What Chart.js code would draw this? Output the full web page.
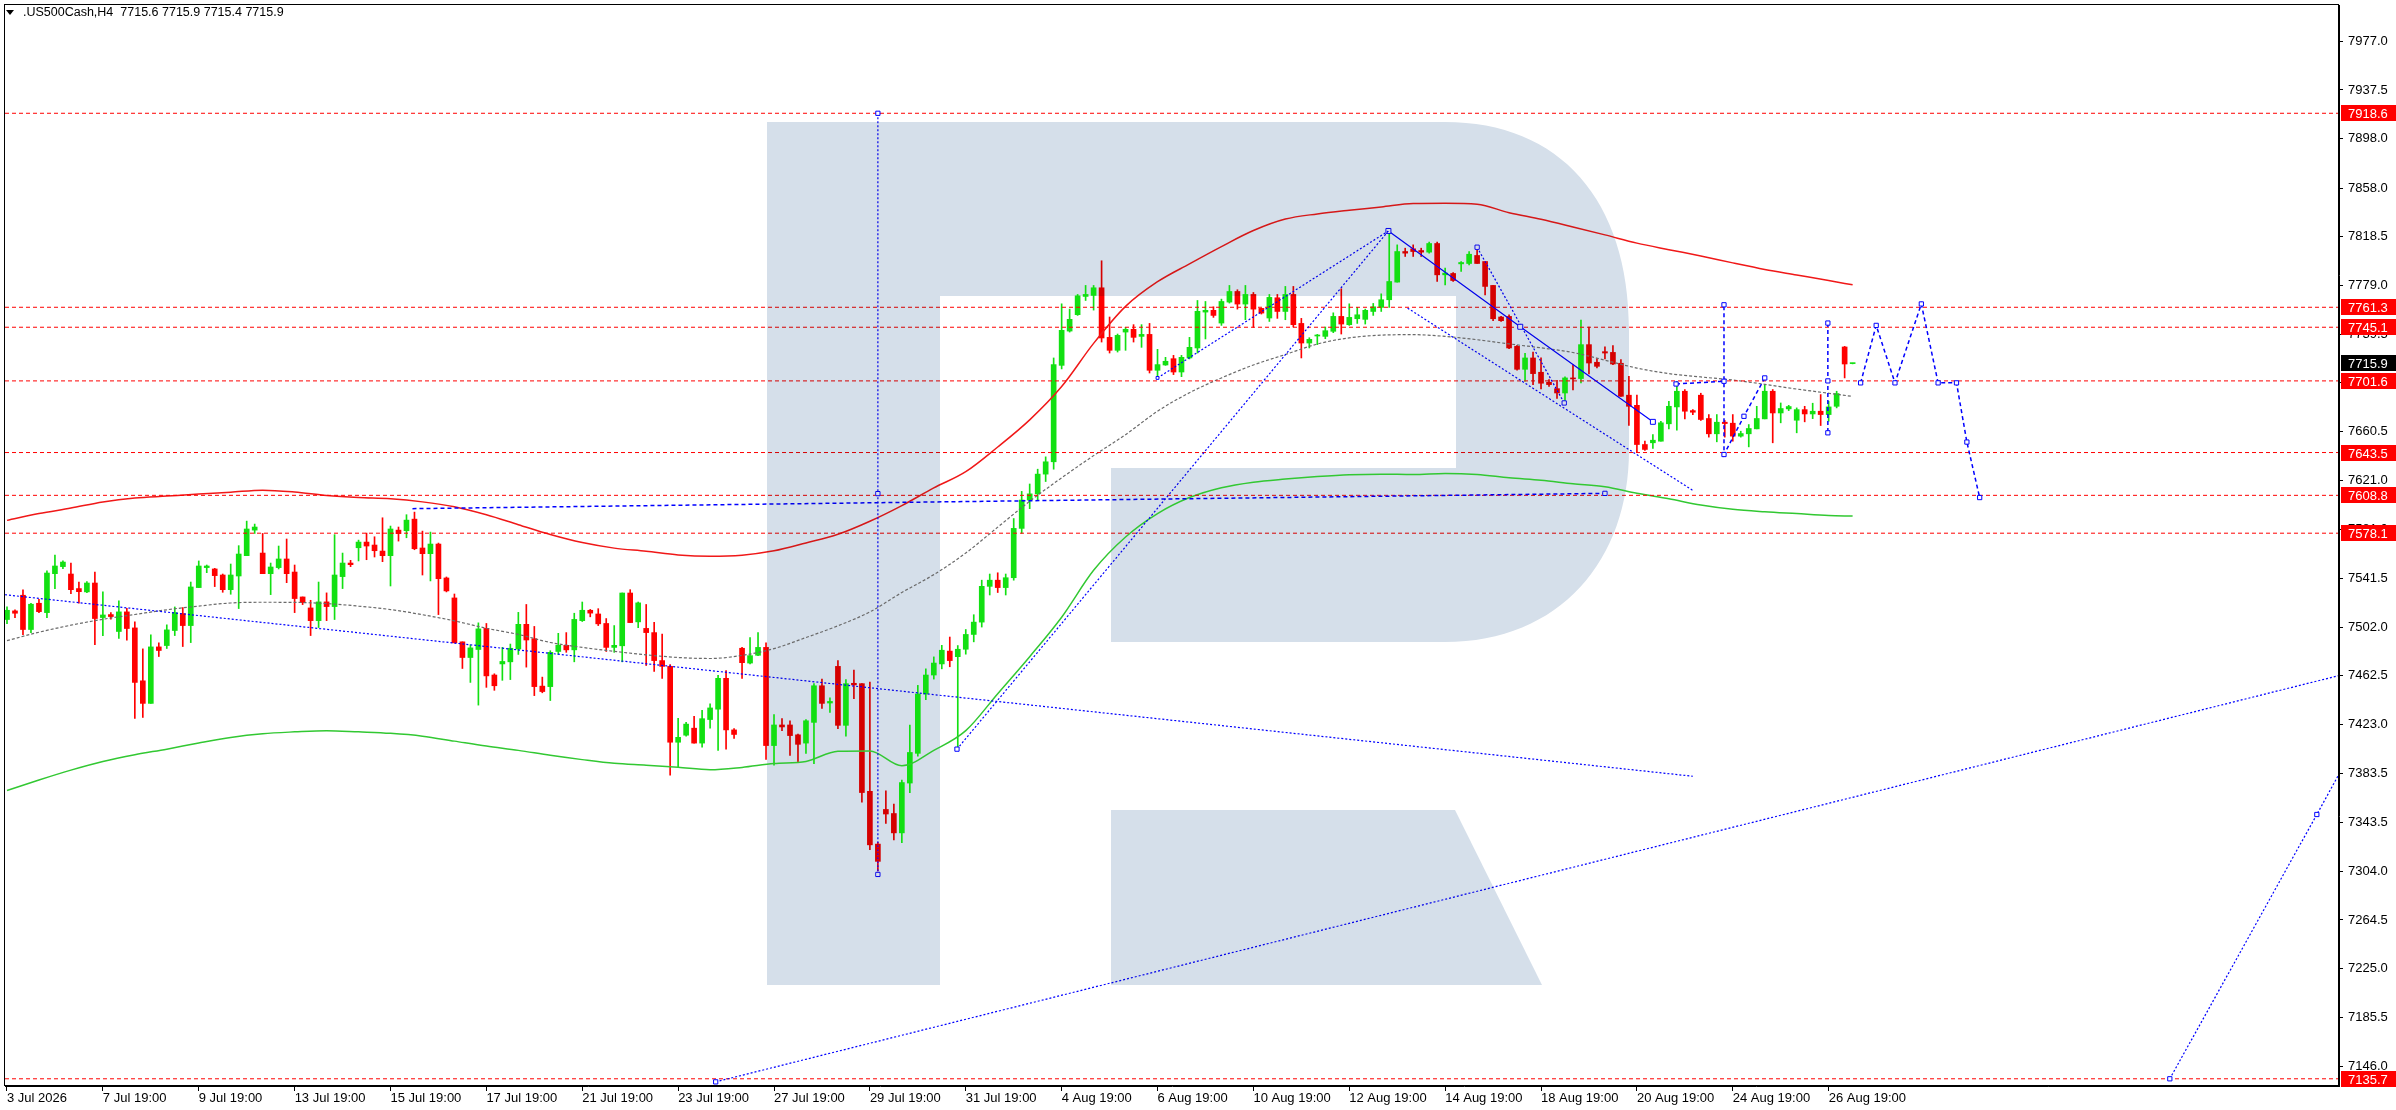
<!DOCTYPE html>
<html>
<head>
<meta charset="utf-8">
<title>.US500Cash,H4</title>
<script src="https://cdn.jsdelivr.net/npm/chart.js@4.4.1/dist/chart.umd.min.js"></script>
<style>
  html, body { margin: 0; padding: 0; background: #fff; }
  canvas { display: block; }
</style>
</head>
<body>
<canvas id="chart" width="2396" height="1110"></canvas>
<script>
// H4 candles, bar 0 = 3 Jul 2026
const opens = [
  7508.1, 7515.1, 7527.8, 7500.0, 7521.3, 7513.7, 7545.3, 7551.0, 7545.0, 7533.2,
  7530.5, 7537.7, 7509.7, 7512.1, 7498.4, 7514.3, 7501.3, 7458.4, 7440.1, 7485.9,
  7487.0, 7499.2, 7512.9, 7503.2, 7534.0, 7550.2, 7549.1, 7544.2, 7532.3, 7543.4,
  7559.9, 7580.6, 7562.0, 7545.3, 7550.2, 7557.2, 7546.6, 7526.4, 7517.5, 7507.2,
  7522.4, 7518.6, 7542.9, 7553.9, 7566.3, 7570.9, 7568.5, 7563.6, 7559.9, 7580.6,
  7580.1, 7589.5, 7566.1, 7561.5, 7569.3, 7541.8, 7525.6, 7490.0, 7477.3, 7483.8,
  7500.9, 7463.1, 7472.1, 7473.8, 7484.2, 7504.2, 7492.5, 7454.1, 7453.7, 7482.2,
  7487.2, 7483.5, 7507.2, 7515.6, 7512.6, 7504.9, 7485.5, 7486.8, 7529.6, 7506.2,
  7500.9, 7497.5, 7474.8, 7470.1, 7408.6, 7414.3, 7420.0, 7407.9, 7427.0, 7435.4,
  7460.4, 7418.6, 7484.8, 7472.8, 7479.1, 7485.5, 7405.9, 7422.6, 7422.6, 7414.6,
  7407.9, 7424.7, 7454.4, 7440.4, 7470.1, 7422.3, 7456.4, 7456.1, 7368.8, 7326.0,
  7354.1, 7350.8, 7335.1, 7375.5, 7399.6, 7447.7, 7463.1, 7472.1, 7482.5, 7478.0,
  7484.0, 7496.0, 7506.0, 7535.0, 7540.0, 7534.0, 7542.0, 7582.0, 7605.0, 7610.0,
  7626.0, 7636.0, 7714.2, 7742.0, 7755.3, 7770.1, 7770.9, 7777.1, 7736.9, 7726.4,
  7741.2, 7743.4, 7737.7, 7739.3, 7710.2, 7714.5, 7719.6, 7708.8, 7720.2, 7728.3,
  7757.4, 7758.8, 7748.5, 7765.5, 7774.1, 7763.9, 7771.7, 7760.4, 7752.6, 7769.0,
  7757.9, 7771.7, 7748.2, 7732.3, 7738.0, 7737.7, 7741.8, 7753.9, 7747.2, 7752.0,
  7751.5, 7757.9, 7761.2, 7767.4, 7781.7, 7806.5, 7808.7, 7807.3, 7806.0, 7813.0,
  7787.6, 7788.7, 7796.5, 7796.8, 7803.3, 7798.4, 7779.0, 7753.4, 7753.9, 7729.6,
  7711.0, 7720.2, 7708.6, 7700.5, 7695.3, 7691.8, 7704.0, 7703.5, 7731.0, 7716.7,
  7725.3, 7724.7, 7715.9, 7690.0, 7681.8, 7650.0, 7651.4, 7652.7, 7666.8, 7680.5,
  7693.2, 7677.5, 7690.0, 7671.1, 7658.7, 7668.1, 7667.3, 7656.8, 7658.7, 7662.7,
  7670.8, 7693.2, 7675.6, 7678.9, 7669.7, 7678.3, 7674.8, 7677.0, 7674.3, 7681.0,
  7729.1, 7715.6
];
const highs = [
  7518.3, 7515.9, 7532.1, 7521.3, 7524.5, 7547.5, 7560.4, 7555.6, 7553.9, 7538.5,
  7538.8, 7546.6, 7530.5, 7513.7, 7523.2, 7517.2, 7506.2, 7484.3, 7495.7, 7489.2,
  7503.8, 7518.3, 7517.8, 7538.5, 7555.6, 7552.3, 7549.6, 7545.0, 7553.1, 7568.0,
  7587.9, 7585.5, 7577.9, 7553.9, 7567.7, 7573.4, 7552.3, 7526.4, 7523.7, 7538.5,
  7529.7, 7576.9, 7562.0, 7556.1, 7572.5, 7578.2, 7575.2, 7590.6, 7583.9, 7583.1,
  7593.1, 7595.2, 7579.8, 7579.0, 7570.1, 7542.6, 7528.8, 7490.0, 7487.6, 7505.4,
  7504.9, 7464.1, 7485.5, 7488.2, 7513.9, 7520.3, 7502.5, 7461.4, 7482.8, 7496.9,
  7497.5, 7513.2, 7522.3, 7516.3, 7516.9, 7508.9, 7503.2, 7529.6, 7532.3, 7522.3,
  7520.3, 7505.9, 7496.2, 7471.5, 7428.0, 7424.7, 7429.7, 7434.4, 7439.7, 7462.8,
  7466.8, 7419.6, 7485.5, 7493.5, 7497.5, 7489.2, 7431.0, 7427.7, 7426.0, 7415.3,
  7427.0, 7456.1, 7459.8, 7444.7, 7474.8, 7459.4, 7467.1, 7456.1, 7457.4, 7327.4,
  7369.2, 7358.5, 7377.9, 7422.6, 7454.7, 7468.1, 7477.8, 7487.2, 7493.9, 7487.0,
  7500.0, 7512.0, 7540.0, 7545.0, 7546.0, 7545.0, 7590.0, 7612.0, 7618.0, 7630.0,
  7640.0, 7720.2, 7764.1, 7759.8, 7771.7, 7779.0, 7779.0, 7799.0, 7753.4, 7739.6,
  7745.0, 7747.2, 7747.2, 7748.2, 7727.2, 7720.7, 7722.3, 7722.3, 7736.9, 7766.8,
  7766.0, 7761.7, 7767.9, 7779.0, 7775.5, 7779.0, 7773.3, 7760.4, 7771.7, 7771.7,
  7778.2, 7778.2, 7752.3, 7736.6, 7739.3, 7745.3, 7756.8, 7776.3, 7764.1, 7761.2,
  7759.8, 7764.4, 7772.2, 7822.2, 7811.9, 7809.2, 7811.9, 7809.2, 7814.1, 7814.1,
  7793.0, 7789.5, 7798.4, 7806.5, 7809.2, 7798.4, 7779.0, 7753.9, 7755.2, 7730.4,
  7724.0, 7725.0, 7720.2, 7702.6, 7702.1, 7704.8, 7714.8, 7750.9, 7745.3, 7719.6,
  7729.3, 7730.2, 7718.8, 7705.3, 7690.0, 7652.7, 7658.1, 7668.9, 7685.1, 7701.3,
  7694.6, 7678.3, 7691.6, 7674.3, 7674.3, 7669.5, 7674.3, 7660.8, 7666.2, 7681.0,
  7698.1, 7694.6, 7683.7, 7681.8, 7679.7, 7681.0, 7683.5, 7690.5, 7685.1, 7693.2,
  7729.6, 7715.9
];
const lows = [
  7504.8, 7509.7, 7495.9, 7497.5, 7513.7, 7509.7, 7533.2, 7549.3, 7529.1, 7521.3,
  7529.9, 7487.8, 7495.1, 7508.3, 7492.7, 7491.3, 7427.9, 7428.7, 7440.1, 7478.1,
  7484.6, 7495.1, 7486.2, 7489.4, 7534.0, 7546.1, 7534.8, 7530.2, 7528.6, 7517.0,
  7559.9, 7577.9, 7545.3, 7528.3, 7549.1, 7538.0, 7513.7, 7520.2, 7495.1, 7501.6,
  7507.2, 7508.1, 7533.2, 7551.0, 7555.6, 7556.6, 7558.8, 7555.0, 7535.3, 7571.7,
  7574.4, 7564.7, 7544.2, 7539.4, 7512.1, 7530.5, 7489.2, 7468.4, 7457.1, 7438.7,
  7453.1, 7450.7, 7458.8, 7459.4, 7479.8, 7469.5, 7446.4, 7448.7, 7442.4, 7479.8,
  7481.5, 7473.8, 7506.5, 7510.3, 7503.2, 7482.2, 7481.5, 7473.8, 7505.6, 7501.5,
  7470.8, 7466.1, 7460.4, 7381.9, 7388.6, 7413.6, 7407.9, 7404.6, 7420.0, 7401.9,
  7402.9, 7411.6, 7460.4, 7472.1, 7478.8, 7394.6, 7389.9, 7418.0, 7398.0, 7392.6,
  7399.6, 7391.2, 7436.0, 7432.7, 7419.6, 7413.6, 7444.0, 7360.1, 7321.4, 7304.3,
  7342.8, 7329.4, 7327.1, 7367.8, 7397.3, 7443.1, 7459.8, 7468.1, 7469.8, 7403.0,
  7480.0, 7490.0, 7502.0, 7528.0, 7530.0, 7528.0, 7540.0, 7578.0, 7598.0, 7605.0,
  7620.0, 7630.0, 7711.3, 7741.2, 7754.7, 7766.8, 7759.0, 7733.1, 7724.2, 7725.0,
  7726.4, 7733.1, 7728.8, 7708.0, 7705.3, 7714.2, 7706.7, 7705.0, 7719.4, 7724.2,
  7735.6, 7753.1, 7746.6, 7764.7, 7759.8, 7751.2, 7745.0, 7755.8, 7749.8, 7752.3,
  7751.2, 7745.3, 7720.2, 7728.3, 7731.0, 7735.8, 7740.7, 7739.6, 7746.6, 7748.2,
  7747.7, 7754.7, 7757.9, 7761.2, 7781.7, 7802.5, 7802.5, 7802.5, 7805.2, 7782.2,
  7779.5, 7782.2, 7790.3, 7795.7, 7796.8, 7771.4, 7750.4, 7749.8, 7727.7, 7710.2,
  7701.3, 7698.6, 7695.1, 7697.2, 7687.3, 7685.1, 7694.3, 7699.9, 7707.2, 7712.1,
  7719.4, 7714.8, 7689.1, 7665.4, 7643.3, 7645.2, 7646.8, 7652.7, 7662.7, 7661.6,
  7670.8, 7674.3, 7669.5, 7656.0, 7652.2, 7656.0, 7652.7, 7656.0, 7648.1, 7662.7,
  7670.8, 7651.4, 7667.6, 7677.5, 7659.5, 7668.4, 7671.0, 7665.4, 7668.9, 7679.7,
  7704.0, 7715.4
];
const closes = [
  7515.6, 7513.2, 7500.0, 7520.5, 7514.5, 7545.8, 7551.5, 7554.7, 7532.3, 7530.7,
  7537.7, 7508.9, 7511.8, 7510.5, 7514.3, 7500.8, 7457.1, 7440.1, 7485.9, 7483.0,
  7499.7, 7513.7, 7503.2, 7534.5, 7551.5, 7551.5, 7543.7, 7532.3, 7544.2, 7561.2,
  7581.5, 7583.1, 7545.3, 7550.7, 7557.2, 7545.3, 7525.1, 7521.8, 7507.2, 7522.4,
  7518.6, 7544.2, 7553.9, 7552.6, 7570.9, 7567.7, 7563.9, 7559.9, 7581.5, 7577.7,
  7588.7, 7565.5, 7561.5, 7569.3, 7541.2, 7531.3, 7489.2, 7477.3, 7485.1, 7500.5,
  7462.4, 7454.4, 7474.1, 7484.8, 7504.2, 7491.5, 7453.7, 7449.7, 7481.5, 7487.2,
  7483.5, 7508.2, 7515.6, 7513.3, 7504.6, 7485.5, 7487.2, 7529.6, 7505.6, 7521.6,
  7497.5, 7474.8, 7470.1, 7408.6, 7412.6, 7423.3, 7407.9, 7427.7, 7436.4, 7460.4,
  7418.6, 7414.9, 7473.1, 7478.8, 7485.5, 7405.9, 7422.6, 7421.0, 7414.0, 7406.9,
  7426.0, 7454.4, 7440.1, 7441.7, 7422.3, 7456.1, 7455.1, 7367.8, 7325.4, 7312.0,
  7350.4, 7335.1, 7375.9, 7400.3, 7447.7, 7463.1, 7472.8, 7483.2, 7474.8, 7484.0,
  7496.0, 7506.0, 7535.0, 7540.0, 7534.0, 7542.0, 7582.0, 7605.0, 7610.0, 7626.0,
  7636.0, 7714.8, 7742.6, 7751.5, 7770.6, 7771.7, 7777.1, 7736.4, 7726.4, 7738.5,
  7743.4, 7736.9, 7739.3, 7710.2, 7714.8, 7717.5, 7708.8, 7720.7, 7728.8, 7758.0,
  7758.8, 7754.7, 7766.0, 7774.1, 7763.9, 7771.7, 7759.8, 7756.6, 7769.3, 7757.9,
  7771.7, 7747.2, 7732.3, 7735.3, 7738.8, 7742.3, 7753.9, 7747.7, 7753.1, 7755.2,
  7758.8, 7761.7, 7767.4, 7782.2, 7806.5, 7805.2, 7806.5, 7806.0, 7813.0, 7787.6,
  7789.0, 7783.0, 7797.6, 7804.3, 7796.8, 7778.2, 7752.0, 7750.4, 7728.3, 7711.0,
  7720.2, 7707.5, 7699.7, 7698.6, 7691.8, 7704.0, 7703.2, 7731.0, 7716.1, 7713.4,
  7724.2, 7715.3, 7689.1, 7681.0, 7650.0, 7646.0, 7653.5, 7667.6, 7681.0, 7693.2,
  7677.0, 7676.2, 7670.3, 7658.7, 7668.1, 7667.0, 7656.8, 7658.9, 7663.0, 7671.1,
  7693.2, 7675.6, 7679.2, 7680.8, 7678.3, 7674.8, 7677.0, 7674.3, 7680.5, 7691.3,
  7715.3, 7715.9
];

// time axis labels, one every 12 bars
const xTickBars = [0, 12, 24, 36, 48, 60, 72, 84, 96, 108, 120, 132, 144, 156, 168, 180, 192, 204, 216, 228];
const xTickLabels = ['3 Jul 2026', '7 Jul 19:00', '9 Jul 19:00', '13 Jul 19:00', '15 Jul 19:00', '17 Jul 19:00',
  '21 Jul 19:00', '23 Jul 19:00', '27 Jul 19:00', '29 Jul 19:00', '31 Jul 19:00', '4 Aug 19:00', '6 Aug 19:00',
  '10 Aug 19:00', '12 Aug 19:00', '14 Aug 19:00', '18 Aug 19:00', '20 Aug 19:00', '24 Aug 19:00', '26 Aug 19:00'];
const yTicks = [7146.0, 7185.5, 7225.0, 7264.5, 7304.0, 7343.5, 7383.5, 7423.0, 7462.5, 7502.0, 7541.5,
  7581.0, 7621.0, 7660.5, 7700.0, 7739.5, 7779.0, 7818.5, 7858.0, 7898.0, 7937.5, 7977.0];

const levels = [7918.6, 7761.3, 7745.1, 7701.6, 7643.5, 7608.8, 7578.1, 7135.7];
const lastPrice = 7715.9;

// envelope / moving averages
const maBars = [0, 4, 8, 12, 16, 20, 24, 28, 32, 36, 40, 44, 48, 52, 56, 60, 64, 68, 72, 76, 80, 84, 88, 92, 96,
  100, 104, 108, 112, 116, 120, 124, 128, 132, 136, 140, 144, 148, 152, 156, 160, 164, 168, 172, 176, 180,
  184, 188, 192, 196, 200, 204, 208, 212, 216, 220, 224, 228, 231];
const redMa = [7588.5, 7594, 7598.5, 7603.4, 7606.6, 7608.2, 7609.8, 7611.3, 7613, 7611.5, 7608.7, 7607, 7606,
  7603.5, 7599.5, 7593, 7585, 7577, 7570.5, 7566, 7563.5, 7560.5, 7559.4, 7560.3, 7563.8, 7570.2, 7577.2,
  7587.8, 7600.5, 7614.8, 7628, 7648, 7670, 7697, 7732, 7762, 7782, 7796.5, 7810.5, 7823.5, 7832.8, 7837,
  7840, 7842.6, 7845.4, 7845.6, 7844.8, 7838, 7832.6, 7826.4, 7820, 7813.3, 7808, 7802.9, 7797.3, 7792,
  7787.5, 7783, 7779.5];
const greenMa = [7369.5, 7378, 7386, 7393, 7398.5, 7403, 7408, 7412.5, 7415.5, 7417, 7418, 7417, 7415.8, 7413.5,
  7409.5, 7405.5, 7402, 7398, 7394.5, 7391.5, 7390, 7388.3, 7386.3, 7388.2, 7391.3, 7393, 7401.3, 7401.5,
  7389.5, 7402, 7418, 7448, 7478, 7510, 7548, 7575, 7594, 7607, 7615, 7619.5, 7622, 7624, 7625.5, 7626,
  7625.7, 7626.6, 7625.7, 7623, 7621, 7618.2, 7615.8, 7610.5, 7606, 7601, 7597.5, 7595.5, 7594, 7592.5, 7592];
const grayMa = [7491, 7497.8, 7503.5, 7508.3, 7512.2, 7516, 7519, 7521.5, 7522.1, 7522, 7521, 7519, 7516.2, 7512,
  7507, 7501, 7496, 7489.5, 7485.5, 7482.3, 7479.5, 7477.3, 7476.5, 7479, 7484.5, 7493.5, 7503, 7514.3, 7530,
  7544.5, 7562, 7583, 7604, 7623, 7641, 7658, 7677, 7692, 7704, 7714.5, 7723, 7731.5, 7736.5, 7738.7, 7739.1,
  7737.7, 7735, 7731.6, 7728.4, 7724.6, 7718.4, 7712, 7707.5, 7704.8, 7702.3, 7698.8, 7695, 7691.6, 7689];

// drawn analysis lines (bar position, price)
const trendDownBars = [-0.25, 211], trendDownVals = [7528.2, 7381];
const trendUpBars = [88.7, 291.9], trendUpVals = [7133.2, 7462.7];
const steepBars = [270.7, 289.1, 291.9], steepVals = [7135.7, 7350, 7383];
const flatBars = [50.75, 200], flatVals = [7598, 7610.4];
const vertBars = [109, 109, 109], vertVals = [7918.6, 7610.2, 7301.4];
const waveABars = [118.9, 172.9], waveAVals = [7403, 7823.2];
const waveBBars = [144, 172.9], waveBVals = [7704, 7823.2];
const solidBars = [172.9, 189.4, 206], solidVals = [7823.2, 7745.5, 7668.4];
const chanBars = [175.3, 211], chanVals = [7760.6, 7612.8];
const waveCBars = [184, 194.9], waveCVals = [7810, 7683.7];
const fcast1Bars = [208.9, 214.9, 214.9, 214.9, 217.4, 220], fcast1Vals = [7699.1, 7701.3, 7763.3, 7641.9, 7672.9, 7704];
const vert2Bars = [227.9, 227.9, 227.9], vert2Vals = [7748.5, 7701.6, 7659.5];
const fcast2Bars = [232, 233.95, 236.3, 239.6, 241.7, 244, 245.3, 246.9];
const fcast2Vals = [7700, 7746.6, 7700, 7764, 7700, 7700, 7652, 7607];

const UP = '#12e012', DOWN = '#ff0000', BLUE = '#0000ff';
const X_MIN = -0.25, X_MAX = 291.875;
const FONT = { family: '"Liberation Sans", Arial, sans-serif', size: 13 };

const pts = (xs, ys) => xs.map((x, i) => ({ x: x, y: ys[i] }));
const candleColor = c => (closes[c.dataIndex] >= opens[c.dataIndex] ? UP : DOWN);

function line(xs, ys, color, width, dash, order, radius, smooth) {
  return {
    type: 'line', data: pts(xs, ys), borderColor: color, borderWidth: width, borderDash: dash,
    pointRadius: radius || 0, pointStyle: 'rect', pointBorderColor: color, pointBackgroundColor: '#fff',
    pointBorderWidth: 1, fill: false, order: order,
    cubicInterpolationMode: smooth ? 'monotone' : 'default', tension: 0
  };
}

const datasets = [
  { type: 'bar', data: opens.map((o, i) => ({ x: i, y: [lows[i], highs[i]] })),
    backgroundColor: candleColor, barThickness: 1, grouped: false, borderWidth: 0, order: 20 },
  { type: 'bar', data: opens.map((o, i) => ({ x: i, y: [Math.min(o, closes[i]), Math.max(o, closes[i])] })),
    backgroundColor: candleColor, barThickness: 5, grouped: false, borderWidth: 0, minBarLength: 1, order: 19 },
  line(maBars, redMa, '#f01818', 1.5, [], 10, 0, true),
  line(maBars, greenMa, '#32c832', 1.5, [], 10, 0, true),
  line(maBars, grayMa, '#6a6a6a', 1.2, [3, 2], 10, 0, true)
];
levels.forEach(lv => datasets.push(line([X_MIN, X_MAX], [lv, lv], '#ff0000', 1, [4, 3], 5)));
datasets.push(
  line(trendDownBars, trendDownVals, BLUE, 1.2, [2, 2], 2),
  line(trendUpBars, trendUpVals, BLUE, 1.2, [2, 2], 2, [3, 0]),
  line(steepBars, steepVals, BLUE, 1.2, [2, 2], 2, [3, 3, 0]),
  line(flatBars, flatVals, BLUE, 1.5, [4, 3], 2, [0, 3]),
  line(vertBars, vertVals, BLUE, 1.2, [2, 2], 2, [3, 3, 3]),
  line(waveABars, waveAVals, BLUE, 1.2, [2, 2], 2, [3, 0]),
  line(waveBBars, waveBVals, BLUE, 1.2, [2, 2], 2, [2, 0]),
  line(solidBars, solidVals, BLUE, 1.2, [], 2, 3.5),
  line(chanBars, chanVals, BLUE, 1.2, [2, 2], 2),
  line(waveCBars, waveCVals, BLUE, 1.2, [2, 2], 2, 3),
  line(fcast1Bars, fcast1Vals, BLUE, 1.5, [4, 3], 2, 3),
  line(vert2Bars, vert2Vals, BLUE, 1.5, [4, 3], 2, 3),
  line(fcast2Bars, fcast2Vals, BLUE, 1.5, [4, 3], 2, 3)
);

// logo watermark (darken blend, like the terminal) + price tags + header
const decor = {
  id: 'decor',
  afterDatasetsDraw(chart) {
    const ctx = chart.ctx, a = chart.chartArea;
    ctx.save();
    ctx.beginPath();
    ctx.rect(a.left, a.top, a.right - a.left, a.bottom - a.top);
    ctx.clip();
    ctx.globalCompositeOperation = 'darken';
    ctx.fillStyle = '#d5dfea';
    ctx.beginPath();
    ctx.moveTo(767, 122);
    ctx.lineTo(1445, 122);
    ctx.bezierCurveTo(1560, 122, 1629, 200, 1629, 330);
    ctx.lineTo(1629, 450);
    ctx.bezierCurveTo(1629, 560, 1560, 642, 1445, 642);
    ctx.lineTo(1111, 642);
    ctx.lineTo(1111, 468);
    ctx.lineTo(1456, 468);
    ctx.lineTo(1456, 296);
    ctx.lineTo(940, 296);
    ctx.lineTo(940, 985);
    ctx.lineTo(767, 985);
    ctx.closePath();
    ctx.fill();
    ctx.beginPath();
    ctx.moveTo(1111, 810);
    ctx.lineTo(1455, 810);
    ctx.lineTo(1542, 985);
    ctx.lineTo(1111, 985);
    ctx.closePath();
    ctx.fill();
    ctx.restore();
  },
  afterDraw(chart) {
    const ctx = chart.ctx, a = chart.chartArea, y = chart.scales.y;
    ctx.save();
    ctx.strokeStyle = '#000';
    ctx.lineWidth = 1;
    ctx.strokeRect(a.left - 0.5, a.top - 0.5, a.right - a.left, a.bottom - a.top);
    ctx.font = '13px "Liberation Sans", Arial, sans-serif';
    ctx.textBaseline = 'middle';
    const tag = (v, bg) => {
      const py = Math.round(y.getPixelForValue(v));
      ctx.fillStyle = bg;
      ctx.fillRect(a.right + 2, py - 8, chart.width - a.right - 2, 16);
      ctx.fillStyle = '#fff';
      ctx.fillText(v.toFixed(1), a.right + 9, py + 1);
    };
    levels.forEach(lv => tag(lv, '#ff0000'));
    tag(lastPrice, '#000');
    // header
    ctx.fillStyle = '#000';
    ctx.beginPath();
    ctx.moveTo(6, 10); ctx.lineTo(14, 10); ctx.lineTo(10, 15); ctx.closePath();
    ctx.fill();
    ctx.font = '12.5px "Liberation Sans", Arial, sans-serif';
    ctx.fillText('.US500Cash,H4  ' + [opens[231], highs[231], lows[231], closes[231]].map(v => v.toFixed(1)).join(' '), 23, 13);
    ctx.restore();
  }
};

new Chart(document.getElementById('chart'), {
  type: 'bar',
  data: { datasets: datasets },
  options: {
    responsive: false, animation: false, devicePixelRatio: 1,
    layout: { padding: { left: 2, top: 3, right: 0, bottom: 0 } },
    plugins: { legend: { display: false }, tooltip: { enabled: false } },
    scales: {
      x: {
        type: 'linear', min: X_MIN, max: X_MAX, offset: false,
        grid: { display: true, drawOnChartArea: false, drawTicks: true, tickLength: 5, color: '#000', offset: false },
        border: { display: true, color: '#000' },
        ticks: { autoSkip: false, maxRotation: 0, align: 'start', padding: 0, color: '#000', font: FONT,
          callback: (v, i) => xTickLabels[i] },
        afterBuildTicks: s => { s.ticks = xTickBars.map(v => ({ value: v })); },
        afterFit: s => { s.height = 24; s.paddingLeft = 0; s.paddingRight = 0; }
      },
      y: {
        type: 'linear', position: 'right', min: 7129.85, max: 8006.4,
        grid: { display: true, drawOnChartArea: false, drawTicks: true, tickLength: 4, color: '#000' },
        border: { display: true, color: '#000' },
        ticks: { autoSkip: false, padding: 5, color: '#000', font: FONT, callback: v => v.toFixed(1) },
        afterBuildTicks: s => { s.ticks = yTicks.map(v => ({ value: v })); },
        afterFit: s => { s.width = 57; s.paddingTop = 0; s.paddingBottom = 0; }
      }
    }
  },
  plugins: [decor]
});
</script>
</body>
</html>
